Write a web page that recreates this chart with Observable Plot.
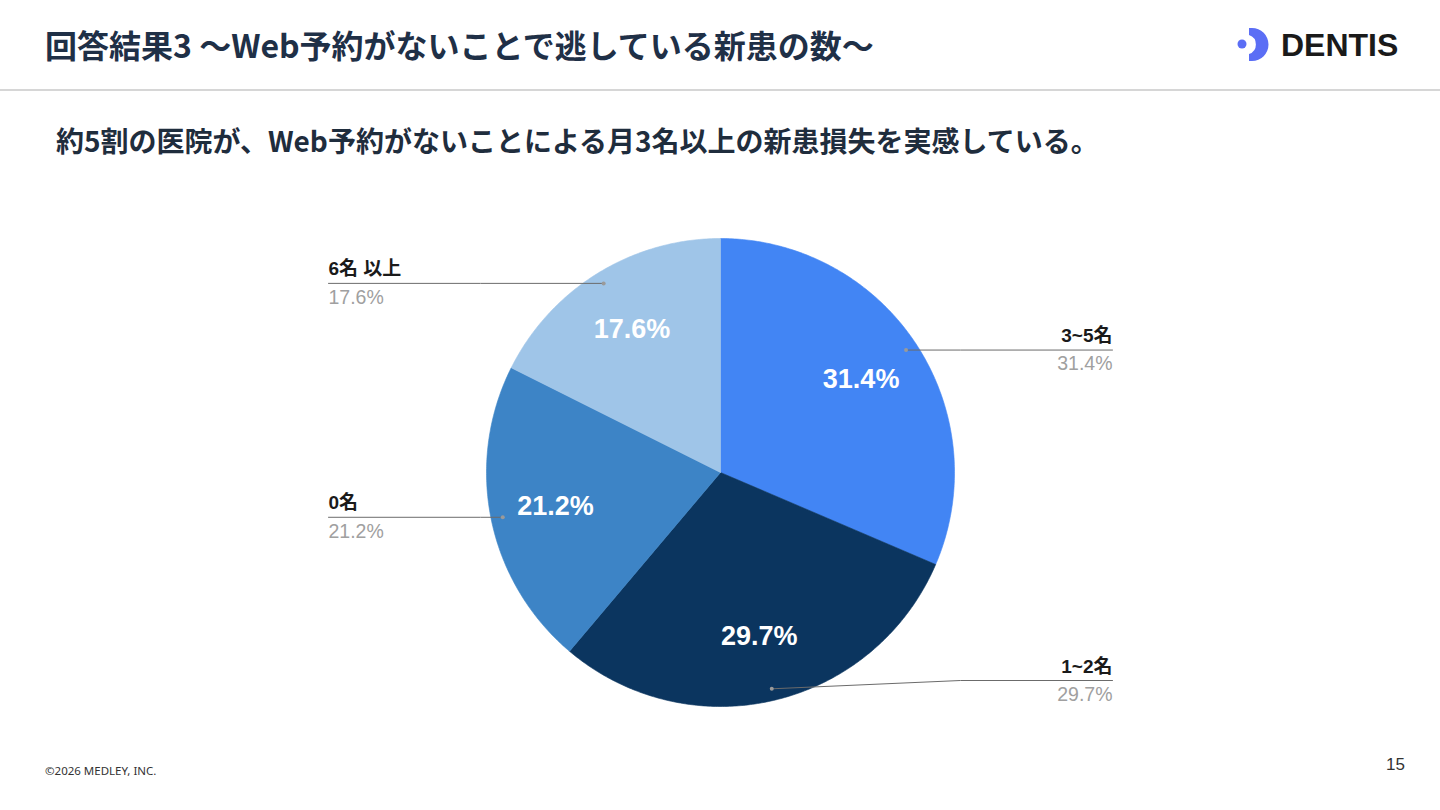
<!DOCTYPE html>
<html lang="ja">
<head>
<meta charset="utf-8">
<script src="https://cdn.jsdelivr.net/npm/d3@7"></script>
<script src="https://cdn.jsdelivr.net/npm/@observablehq/plot@0.6"></script>
<style>
  html, body { margin: 0; padding: 0; background: #fff; }
  #page { position: relative; width: 1440px; height: 810px; overflow: hidden; background: #fff; }
  .title { position: absolute; left: 45px; top: 22px; font-family: "Noto Sans CJK JP", "Noto Sans", sans-serif; font-weight: 700; font-size: 32px; line-height: 44px; color: #1f3047; white-space: nowrap; }
  .rule { position: absolute; left: 0; top: 89px; width: 1440px; height: 2px; background: #d6d6d6; }
  .subtitle { position: absolute; left: 56px; top: 120px; font-family: "Noto Sans CJK JP", "Noto Sans", sans-serif; font-weight: 700; font-size: 28px; line-height: 40px; color: #1f2d3d; white-space: nowrap; }
  .logo { position: absolute; left: 1230px; top: 20px; }
  .footer { position: absolute; left: 45px; top: 763px; font-family: "Noto Sans", "Open Sans", sans-serif; font-size: 11.5px; color: #333; }
  .pageno { position: absolute; left: 1386px; top: 755px; font-family: "Liberation Sans", Arial, sans-serif; font-size: 17px; color: #333; }
  #chart { position: absolute; left: 0; top: 180px; }
</style>
</head>
<body>
<div id="page">
  <div class="title">回答結果3 〜Web予約がないことで逃している新患の数〜</div>
  <svg class="logo" width="180" height="50" viewBox="1230 20 180 50">
    <circle cx="1242" cy="44" r="4.5" fill="#5b6ef5"></circle>
    <path d="M1249,28 L1252,28 A16.5,16.5 0 0 1 1252,61 L1249,61 L1249,54 A10,10 0 0 0 1249,35 Z" fill="#5b6ef5"></path>
    <text x="1281" y="56" font-family="Liberation Sans, Arial, sans-serif" font-weight="700" font-size="32" fill="#1a1a1a">DENTIS</text>
  </svg>
  <div class="rule"></div>
  <div class="subtitle">約5割の医院が、Web予約がないことによる月3名以上の新患損失を実感している。</div>
  <div id="chart"></div>
  <div class="footer">©2026 MEDLEY, INC.</div>
  <div class="pageno">15</div>
</div>
<script>
// ---- data ----
const categories = ["3~5名", "1~2名", "0名", "6名 以上"];
const values = [31.4, 29.7, 21.2, 17.6];
const valueLabels = ["31.4%", "29.7%", "21.2%", "17.6%"];
const colors = ["#4285f4", "#0b355f", "#3d84c6", "#9fc5e8"];

// ---- layout (pixel units relative to pie centre) ----
const W = 1440, H = 560;
const cx = 720, cy = 292;
const R = 234;
const labelX = 392;       // horizontal reach of label anchors
const elbowX = 240;
const maxLabelY = 208;

const rows = categories.map((c, i) => ({cat: c, value: values[i], label: valueLabels[i]}));
const arcs = d3.pie().sort(null).value(d => d.value).startAngle(0).endAngle(2 * Math.PI)(rows);

// slice polygons (geometry derived from the pie layout)
const slicePts = [];
arcs.forEach(a => {
  const n = Math.max(2, Math.ceil((a.endAngle - a.startAngle) / 0.01));
  slicePts.push({cat: a.data.cat, x: 0, y: 0});
  for (let k = 0; k <= n; k++) {
    const t = a.startAngle + (a.endAngle - a.startAngle) * k / n;
    slicePts.push({cat: a.data.cat, x: R * Math.sin(t), y: -R * Math.cos(t)});
  }
  slicePts.push({cat: a.data.cat, x: 0, y: 0});
});

const mid = a => (a.startAngle + a.endAngle) / 2;
const inner = arcs.map(a => ({label: a.data.label, x: 0.72 * R * Math.sin(mid(a)), y: -0.72 * R * Math.cos(mid(a))}));

const leaders = arcs.map(a => {
  const m = mid(a);
  const dx = 0.95 * R * Math.sin(m), dy = -0.95 * R * Math.cos(m);
  const side = dx >= 0 ? 1 : -1;
  const ly = Math.min(dy, maxLabelY);
  return {cat: a.data.cat, label: a.data.label, side, dx, dy, ly};
});
const leaderPts = leaders.flatMap(l => [
  {cat: l.cat, x: l.dx, y: l.dy},
  {cat: l.cat, x: l.side * Math.max(Math.abs(l.dx), elbowX), y: l.ly},
  {cat: l.cat, x: l.side * labelX, y: l.ly}
]);
const right = leaders.filter(l => l.side > 0);
const left = leaders.filter(l => l.side < 0);

const font = "'Liberation Sans', Arial, 'Noto Sans CJK JP', sans-serif";

const chart = Plot.plot({
  width: W, height: H,
  margin: 0,
  x: {type: "linear", domain: [-cx, W - cx], range: [0, W], axis: null},
  y: {type: "linear", domain: [-cy, H - cy], range: [0, H], axis: null},
  color: {domain: categories, range: colors},
  style: {fontFamily: font, background: "transparent"},
  marks: [
    Plot.line(slicePts, {x: "x", y: "y", z: "cat", fill: "cat", stroke: "cat", strokeWidth: 0.6, curve: "linear"}),
    Plot.line(leaderPts, {x: "x", y: "y", z: "cat", stroke: "#6b6b6b", strokeWidth: 1}),
    Plot.dot(leaders, {x: "dx", y: "dy", r: 2, fill: "#9a9a9a", stroke: null}),
    Plot.text(inner, {x: "x", y: "y", text: "label", fill: "#ffffff", fontSize: 27, fontWeight: "bold", textAnchor: "middle", lineAnchor: "middle"}),
    Plot.text(right, {x: () => labelX, y: "ly", text: "cat", dy: -14, fill: "#1a1a1a", fontSize: 19, fontWeight: "bold", textAnchor: "end", lineAnchor: "middle"}),
    Plot.text(right, {x: () => labelX, y: "ly", text: "label", dy: 14, fill: "#a0a0a0", fontSize: 19.5, textAnchor: "end", lineAnchor: "middle"}),
    Plot.text(left, {x: () => -labelX, y: "ly", text: "cat", dy: -14, fill: "#1a1a1a", fontSize: 19, fontWeight: "bold", textAnchor: "start", lineAnchor: "middle"}),
    Plot.text(left, {x: () => -labelX, y: "ly", text: "label", dy: 14, fill: "#a0a0a0", fontSize: 19.5, textAnchor: "start", lineAnchor: "middle"})
  ]
});
document.getElementById("chart").appendChild(chart);
</script>
</body>
</html>
